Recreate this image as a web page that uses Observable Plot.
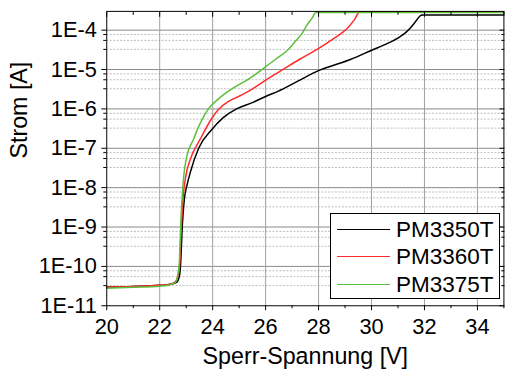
<!DOCTYPE html>
<html>
<head>
<meta charset="utf-8">
<script src="https://cdn.jsdelivr.net/npm/d3@7"></script>
<script src="https://cdn.jsdelivr.net/npm/@observablehq/plot@0.6"></script>
<style>
  html, body { margin: 0; padding: 0; overflow: hidden; background: #fff; }
  #wrap { position: relative; width: 505px; height: 380px; overflow: hidden; }
  #legend { position: absolute; left: 330px; top: 213px; width: 170px; height: 86px; box-sizing: border-box;
            border: 1px solid #000; background: #fff; font-family: 'Liberation Sans', Arial, sans-serif; font-size: 22.5px; }
  .row { position: absolute; left: 0; height: 0; }
  .sample { position: absolute; left: 6px; width: 53px; top: -1px; height: 0; border-top: 1.5px solid; }
  .lab { position: absolute; left: 65px; top: -13px; line-height: 26px; white-space: nowrap; color: #000; }
</style>
</head>
<body>
<div id="wrap"><div id="legend"></div></div>
<script>
// ---- data ----
const seriesNames = ["PM3350T", "PM3360T", "PM3375T"];
const seriesColors = ["#000000", "#ff2a2a", "#5cbf3c"];

const v3350 = [20, 21, 22, 22.4, 22.65, 22.75, 22.8, 22.84, 22.88, 22.93, 23.05, 23.16, 23.47, 23.97, 24.4, 24.9, 25.5, 26.02, 26.46, 27.2, 28.02, 28.6, 29.2, 30.01, 30.6, 31.07, 31.3, 31.5, 31.7, 31.82, 31.92, 35];
const i3350 = [3.0e-11, 3.1e-11, 3.3e-11, 3.5e-11, 4.0e-11, 6e-11, 1.5e-10, 7e-10, 2e-9, 5e-9, 1.3e-8, 2.5e-8, 1e-7, 3e-7, 6e-7, 1e-6, 1.45e-6, 2.1e-6, 2.8e-6, 5e-6, 9.5e-6, 1.3e-5, 1.8e-5, 3.1e-5, 4.6e-5, 6.8e-5, 8.8e-5, 1.2e-4, 1.78e-4, 2.25e-4, 2.43e-4, 2.43e-4];

const v3360 = [20, 21, 22, 22.4, 22.6, 22.7, 22.76, 22.8, 22.83, 22.87, 22.97, 23.16, 23.53, 23.97, 24.21, 24.6, 25.0, 25.46, 26.02, 26.6, 27.27, 28.02, 28.58, 29.08, 29.33, 29.57, 35];
const i3360 = [3.0e-11, 3.1e-11, 3.3e-11, 3.5e-11, 4.1e-11, 6e-11, 1.3e-10, 6e-10, 1.5e-9, 4.4e-9, 1.7e-8, 5.3e-8, 1.7e-7, 5.8e-7, 9.5e-7, 1.55e-6, 2.1e-6, 3.1e-6, 5.5e-6, 9.5e-6, 1.8e-5, 3.5e-5, 6.2e-5, 1.1e-4, 1.75e-4, 2.92e-4, 2.92e-4];

const v3375 = [20, 21, 22, 22.4, 22.6, 22.68, 22.74, 22.78, 22.81, 22.85, 22.91, 23.03, 23.28, 23.45, 23.59, 23.84, 24.2, 24.72, 25.4, 26.02, 26.5, 26.83, 27.08, 27.39, 27.58, 27.75, 27.9, 35];
const i3375 = [2.8e-11, 2.95e-11, 3.15e-11, 3.4e-11, 4.0e-11, 6e-11, 1.2e-10, 6e-10, 2e-9, 6e-9, 2e-8, 6.5e-8, 1.7e-7, 3.3e-7, 5.2e-7, 1e-6, 1.75e-6, 3.2e-6, 6e-6, 1.2e-5, 2.1e-5, 3.1e-5, 4.8e-5, 8.5e-5, 1.4e-4, 2.0e-4, 2.8e-4, 2.8e-4];

const xTicks = [20, 22, 24, 26, 28, 30, 32, 34];
const xMinor = [21, 23, 25, 27, 29, 31, 33, 35];
const xGrid = [22, 24, 26, 28, 30, 32, 34];
const yTicks = [1e-11, 1e-10, 1e-9, 1e-8, 1e-7, 1e-6, 1e-5, 1e-4];
const yGrid = [1e-10, 1e-9, 1e-8, 1e-7, 1e-6, 1e-5, 1e-4];
const yMinorFactors = [3.25, 5.5, 7.75];
const yMinor = yTicks.slice(0, 7).flatMap(d => yMinorFactors.map(f => d * f));
const xTitle = "Sperr-Spannung [V]";
const yTitle = "Strom [A]";

// ---- table ----
const vs = [v3350, v3360, v3375];
const is = [i3350, i3360, i3375];
const rows = seriesNames.flatMap((s, k) => vs[k].map((v, j) => ({series: s, v, i: is[k][j]})));

const font = "'Liberation Sans', Arial, sans-serif";
const none = () => "";

const chart = Plot.plot({
  width: 510,
  height: 380,
  marginLeft: 107.3,
  marginRight: 1.6,
  marginTop: 11,
  marginBottom: 71.7,
  style: {fontFamily: font, fontSize: "22px", color: "#000", background: "#fff"},
  x: {domain: [20, 35]},
  y: {type: "log", domain: [1e-11, 3e-4]},
  color: {domain: seriesNames, range: seriesColors},
  marks: [
    Plot.ruleY(yMinor, {stroke: "#bdbdbd", strokeDasharray: "2,1.5"}),
    Plot.ruleY(yGrid, {stroke: "#8a8a8a"}),
    Plot.ruleX(xGrid, {stroke: "#a0a0a0"}),
    Plot.line(rows, {x: "v", y: "i", z: "series", stroke: "series", strokeWidth: 1.5, curve: "monotone-x"}),
    Plot.frame({stroke: "#000"}),
    Plot.axisY({ticks: yTicks, tickSize: 5, tickPadding: 5, tickFormat: d => "1E" + Math.round(Math.log10(d)), label: null}),
    Plot.axisY({ticks: yMinor, tickSize: 3, tickFormat: none, label: null}),
    Plot.axisY({anchor: "right", ticks: yTicks, tickSize: -5, tickFormat: none, label: null}),
    Plot.axisY({anchor: "right", ticks: yMinor, tickSize: -3, tickFormat: none, label: null}),
    Plot.axisX({ticks: xTicks, tickSize: 5, tickPadding: 8, label: null}),
    Plot.axisX({ticks: xMinor, tickSize: 3, tickFormat: none, label: null}),
    Plot.axisX({anchor: "top", ticks: xTicks, tickSize: -5, tickFormat: none, label: null}),
    Plot.axisX({anchor: "top", ticks: xMinor, tickSize: -3, tickFormat: none, label: null}),
    Plot.text([xTitle], {text: d => d, frameAnchor: "bottom", dy: 58.7, fontSize: 23.5}),
    Plot.text([yTitle], {text: d => d, frameAnchor: "left", rotate: -90, dx: -88, fontSize: 23.5})
  ]
});
document.getElementById("wrap").prepend(chart);

// ---- legend ----
const legend = document.getElementById("legend");
seriesNames.forEach((s, k) => {
  const row = document.createElement("div");
  row.className = "row";
  row.style.top = (15.5 + 27.8 * k) + "px";
  const sample = document.createElement("div");
  sample.className = "sample";
  sample.style.borderTopColor = seriesColors[k];
  const lab = document.createElement("div");
  lab.className = "lab";
  lab.textContent = s;
  row.append(sample, lab);
  legend.append(row);
});
</script>
</body>
</html>
